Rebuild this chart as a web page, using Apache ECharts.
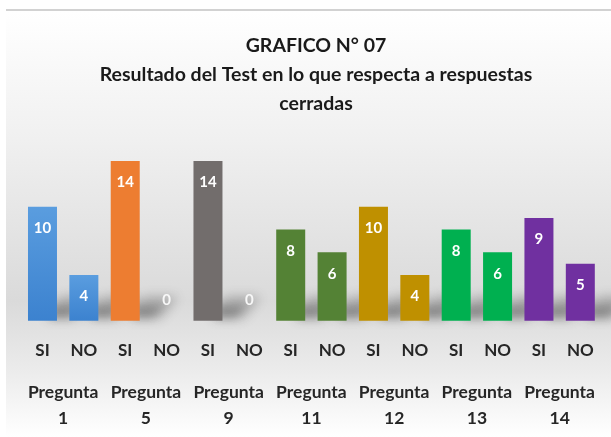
<!DOCTYPE html>
<html>
<head>
<meta charset="utf-8">
<script src="https://cdn.jsdelivr.net/npm/echarts@6/dist/echarts.min.js"></script>
<style>html,body{margin:0;padding:0;background:#fff;}#c{width:611px;height:437px;}</style>
</head>
<body>
<div id="c"></div>
<script>
const answers = ['SI','NO','SI','NO','SI','NO','SI','NO','SI','NO','SI','NO','SI','NO'];
const questions = ['Pregunta\n1','Pregunta\n5','Pregunta\n9','Pregunta\n11','Pregunta\n12','Pregunta\n13','Pregunta\n14'];
const values = [10, 4, 14, 0, 14, 0, 8, 6, 10, 4, 8, 6, 9, 5];
const colors = ['#4a8fd8','#4a8fd8','#ed7d31','#ed7d31','#726d6c','#726d6c','#548235','#548235','#bf9000','#bf9000','#00b050','#00b050','#7030a0','#7030a0'];

const FONT = 'Lato';
const chart = echarts.init(document.getElementById('c'), null, {renderer:'canvas'});

const barData = values.map((v, i) => {
  const item = {
    value: v,
    itemStyle: {
      color: i < 2 ? {type:'linear', x:0, y:0, x2:0, y2:1, colorStops:[{offset:0,color:'#5a9ddf'},{offset:1,color:'#3c82cf'}]} : colors[i]
    }
  };
  if (v === 0) item.label = {position:'top', distance: 13, color:'#f7f7f7'};
  return item;
});

const SHIFT = 1500;
function shadowPoly(pts, blur, color) {
  return {
    type:'polygon',
    shape:{points: pts.map(p => [p[0] - SHIFT, p[1]])},
    style:{fill:'#000', shadowColor: color, shadowBlur: blur, shadowOffsetX: SHIFT, shadowOffsetY: 0}
  };
}

chart.setOption({
  animation: false,
  graphic: [
    {type:'rect', z:-10, shape:{x:6, y:12, width:605, height:425},
      style:{fill:{type:'linear', x:0, y:0, x2:0, y2:1, colorStops:[
        {offset:0, color:'#ffffff'},
        {offset:0.3, color:'#f0f0f0'},
        {offset:0.68, color:'#dadada'},
        {offset:0.85, color:'#ececec'},
        {offset:1, color:'#ffffff'}]}}},
    {type:'rect', z:-9, shape:{x:6, y:9, width:605, height:2}, style:{fill:'#d2d2d2'}}
  ],
  title: {
    text: 'GRAFICO N° 07\nResultado del Test en lo que respecta a respuestas\ncerradas',
    left: 311, top: 26, textAlign: 'center',
    textStyle: {fontFamily: FONT, fontWeight: 'bold', fontSize: 19.5, lineHeight: 29, color: '#1a1a1a'}
  },
  grid: {left: 21.8, right: 10, top: 161, bottom: 116.3},
  xAxis: [
    {type:'category', data: answers, axisLine:{show:false}, axisTick:{show:false},
      axisLabel:{interval:0, margin: 21, fontFamily: FONT, fontWeight:'bold', fontSize: 17, color:'#262626'}},
    {type:'category', data: questions, position:'bottom', axisLine:{show:false}, axisTick:{show:false},
      axisLabel:{interval:0, margin: 59, lineHeight: 26, fontFamily: FONT, fontWeight:'bold', fontSize: 17.5, color:'#262626'}}
  ],
  yAxis: {type:'value', min:0, max:14, show:false, splitLine:{show:false}},
  series: [
    {
      type:'custom', xAxisIndex:0, yAxisIndex:0, z:1, silent:true, clip:false,
      encode: {x:0, y:1},
      data: values.map((v, i) => [i, v]),
      renderItem: function (params, api) {
        const v = api.value(1);
        if (!v) return {type:'group', children:[]};
        const base = api.coord([api.value(0), 0]);
        const x1 = base[0] + 14.5;
        const y0 = base[1];
        return {
          type:'group',
          children:[
            shadowPoly([[x1 - 10, y0 - 2], [x1 + 20, y0 - 2], [x1 + 38, y0 - 24], [x1 + 6, y0 - 24], [x1 - 10, y0 - 14]], 12, 'rgba(40,40,40,0.30)'),
            shadowPoly([[x1 - 6, y0 - 3], [x1 + 12, y0 - 3], [x1 + 22, y0 - 14], [x1 - 6, y0 - 14]], 8, 'rgba(40,40,40,0.25)')
          ]
        };
      }
    },
    {
      type:'bar', xAxisIndex:0, z:2, barWidth: 29,
      data: barData,
      itemStyle: {borderWidth:0},
      label: {show:true, position:'insideTop', distance: 14, fontFamily: FONT, fontWeight:'bold', fontSize: 15, color:'#ffffff'}
    }
  ]
});
</script>
</body>
</html>
